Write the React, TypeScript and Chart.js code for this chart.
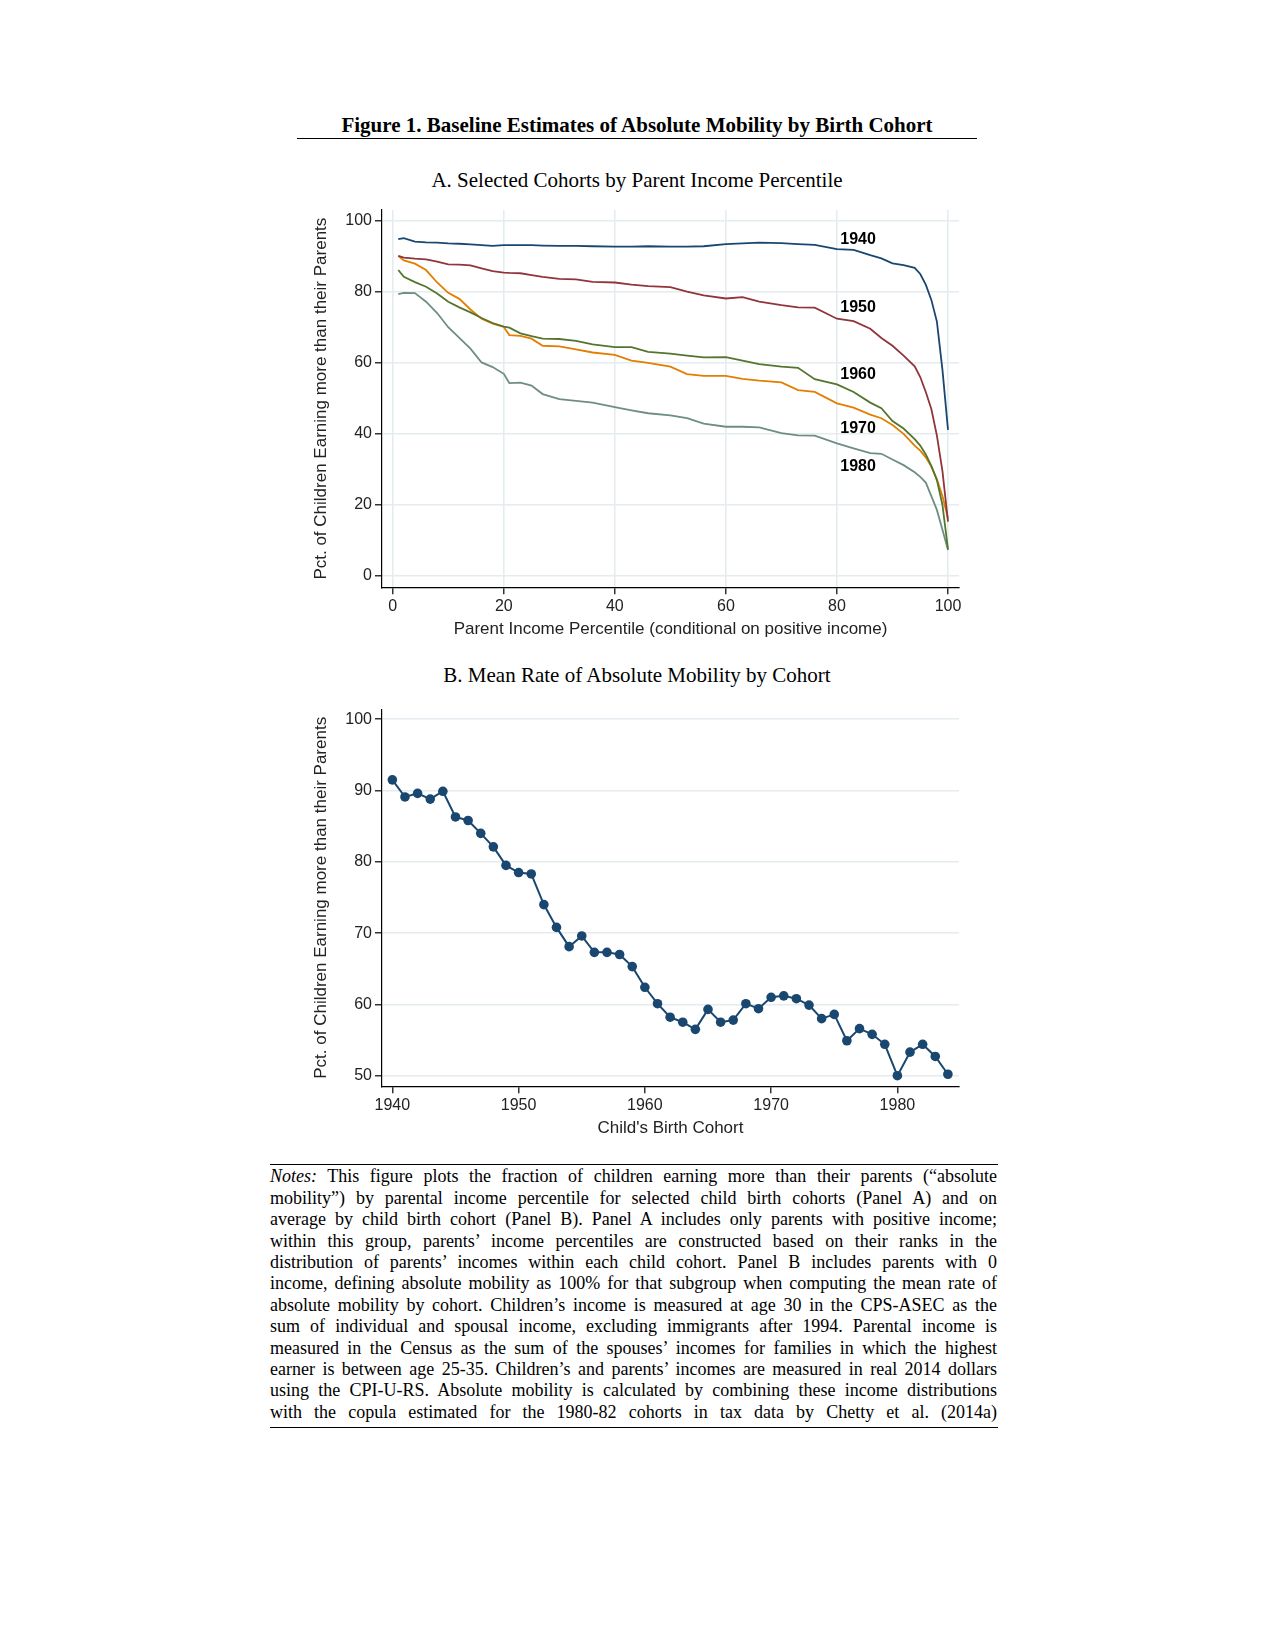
import React, { useEffect, useRef } from 'react';
import { Chart, registerables } from 'chart.js';

Chart.register(...registerables);

// ---------- Panel A data: parent income percentile vs. % children earning more ----------
const PERCENTILES = [1, 2, 4, 6, 8, 10, 12, 14, 16, 18, 20, 21, 23, 25, 27, 30, 33, 36, 40, 43, 46, 50, 53, 56, 60, 63, 66, 70, 73, 76, 80, 83, 86, 88, 90, 92, 94, 95, 96, 97, 98, 99, 100];

const COHORT_1940 = [94.8, 95.1, 94.1, 93.9, 93.8, 93.6, 93.5, 93.3, 93.1, 92.9, 93.1, 93.1, 93.1, 93.1, 93.0, 92.9, 92.9, 92.8, 92.7, 92.7, 92.8, 92.7, 92.7, 92.8, 93.4, 93.6, 93.8, 93.7, 93.4, 93.2, 92.0, 91.8, 90.3, 89.4, 88.0, 87.5, 86.7, 85.0, 82.0, 77.7, 71.6, 58.0, 41.1];
const COHORT_1950 = [90.1, 89.6, 89.3, 89.1, 88.5, 87.7, 87.6, 87.4, 86.6, 85.8, 85.4, 85.3, 85.2, 84.7, 84.2, 83.6, 83.5, 82.8, 82.6, 82.0, 81.6, 81.3, 80.0, 79.0, 78.1, 78.5, 77.2, 76.2, 75.6, 75.5, 72.4, 71.7, 69.6, 67.0, 64.8, 62.0, 59.0, 56.0, 51.8, 47.0, 39.5, 29.5, 15.3];
const COHORT_1960 = [86.1, 84.2, 82.7, 81.4, 79.5, 77.2, 75.6, 74.2, 72.6, 71.2, 70.2, 69.9, 68.3, 67.5, 66.8, 66.7, 66.2, 65.2, 64.4, 64.4, 63.1, 62.6, 62.0, 61.5, 61.6, 60.6, 59.6, 58.9, 58.6, 55.4, 53.9, 51.8, 48.8, 47.2, 43.6, 41.5, 38.5, 36.7, 34.2, 31.0, 27.0, 20.0, 7.5];
const COHORT_1970 = [90.1, 88.8, 87.9, 86.1, 82.6, 79.7, 78.0, 75.0, 72.4, 71.0, 70.1, 67.8, 67.6, 66.8, 64.8, 64.6, 63.8, 62.9, 62.2, 60.6, 60.0, 58.9, 56.8, 56.3, 56.3, 55.5, 55.0, 54.5, 52.3, 51.8, 48.6, 47.4, 45.4, 44.4, 42.5, 40.0, 36.7, 35.3, 33.4, 30.8, 27.2, 22.5, 16.2];
const COHORT_1980 = [79.3, 79.7, 79.6, 77.2, 74.0, 70.0, 67.0, 64.0, 60.1, 58.8, 56.9, 54.3, 54.4, 53.6, 51.2, 49.8, 49.3, 48.8, 47.5, 46.6, 45.8, 45.2, 44.4, 42.9, 42.0, 42.0, 41.8, 40.2, 39.6, 39.5, 37.3, 35.9, 34.6, 34.4, 32.8, 31.2, 29.2, 27.9, 26.3, 22.5, 18.6, 13.0, 7.3];

const COHORT_NAMES = ['1940', '1950', '1960', '1970', '1980'];
// label anchors in data units (percentile, value)
const LABEL_PCT = [80.6, 80.6, 80.6, 80.6, 80.6];
const LABEL_VAL = [94.6, 75.6, 56.6, 41.6, 30.8];

const A_X_TICKS = [0, 20, 40, 60, 80, 100];
const A_Y_TICKS = [0, 20, 40, 60, 80, 100];

// ---------- Panel B data: mean absolute mobility by birth cohort ----------
const BIRTH_COHORTS = [1940, 1941, 1942, 1943, 1944, 1945, 1946, 1947, 1948, 1949, 1950, 1951, 1952, 1953, 1954, 1955, 1956, 1957, 1958, 1959, 1960, 1961, 1962, 1963, 1964, 1965, 1966, 1967, 1968, 1969, 1970, 1971, 1972, 1973, 1974, 1975, 1976, 1977, 1978, 1979, 1980, 1981, 1982, 1983, 1984];
const MEAN_MOBILITY = [91.5, 89.1, 89.6, 88.8, 89.9, 86.3, 85.8, 84.0, 82.1, 79.5, 78.5, 78.3, 74.0, 70.8, 68.1, 69.6, 67.3, 67.3, 67.0, 65.3, 62.4, 60.1, 58.2, 57.5, 56.5, 59.3, 57.5, 57.8, 60.1, 59.4, 61.0, 61.2, 60.8, 59.9, 58.0, 58.6, 54.9, 56.6, 55.8, 54.4, 50.0, 53.3, 54.4, 52.7, 50.2];

const B_X_TICKS = [1940, 1950, 1960, 1970, 1980];
const B_Y_TICKS = [50, 60, 70, 80, 90, 100];

// ---------- styles ----------
const SANS = '"Liberation Sans", Arial, Helvetica, sans-serif';
const SERIF = '"Liberation Serif", "Times New Roman", Times, serif';
const COHORT_COLORS = ['#1a476f', '#90353b', '#55752f', '#e37e00', '#6e8e84'];
const GRID = '#e4ecef';
const TEXT = '#222222';

const NOTE_LINES = [
  'This figure plots the fraction of children earning more than their parents (\u201cabsolute',
  'mobility\u201d) by parental income percentile for selected child birth cohorts (Panel A) and on',
  'average by child birth cohort (Panel B). Panel A includes only parents with positive income;',
  'within this group, parents\u2019 income percentiles are constructed based on their ranks in the',
  'distribution of parents\u2019 incomes within each child cohort. Panel B includes parents with 0',
  'income, defining absolute mobility as 100% for that subgroup when computing the mean rate of',
  'absolute mobility by cohort. Children\u2019s income is measured at age 30 in the CPS-ASEC as the',
  'sum of individual and spousal income, excluding immigrants after 1994. Parental income is',
  'measured in the Census as the sum of the spouses\u2019 incomes for families in which the highest',
  'earner is between age 25-35. Children\u2019s and parents\u2019 incomes are measured in real 2014 dollars',
  'using the CPI-U-RS. Absolute mobility is calculated by combining these income distributions',
  'with the copula estimated for the 1980-82 cohorts in tax data by Chetty et al. (2014a)',
];

const tickFont = { family: SANS, size: 16 };

function axis(opts: any) {
  const { min, max, ticks, title, width, height, gridOnArea, fmt } = opts;
  return {
    type: 'linear',
    min,
    max,
    afterBuildTicks: (s: any) => {
      s.ticks = ticks.map((v: number) => ({ value: v }));
    },
    afterFit: (s: any) => {
      if (width !== undefined) s.width = width;
      if (height !== undefined) s.height = height;
    },
    grid: {
      display: true,
      drawOnChartArea: gridOnArea,
      color: GRID,
      lineWidth: 1.6,
      drawTicks: true,
      tickLength: 7,
      tickColor: '#000',
      tickWidth: 1.2,
    },
    border: { display: true, color: '#000', width: 1.2 },
    ticks: {
      color: TEXT,
      font: tickFont,
      padding: 3,
      maxRotation: 0,
      autoSkip: false,
      callback: (v: any) => (fmt ? fmt(v) : String(v)),
    },
    title: {
      display: true,
      text: title,
      color: TEXT,
      font: { family: SANS, size: 17 },
      padding: 0,
    },
  };
}

const cohortLabelPlugin = {
  id: 'cohortLabels',
  afterDatasetsDraw(chart: any) {
    const { ctx } = chart;
    const xs = chart.scales.x;
    const ys = chart.scales.y;
    ctx.save();
    ctx.font = `bold 16px ${SANS}`;
    ctx.fillStyle = '#000';
    ctx.textAlign = 'left';
    ctx.textBaseline = 'middle';
    COHORT_NAMES.forEach((name, i) => {
      ctx.fillText(name, xs.getPixelForValue(LABEL_PCT[i]), ys.getPixelForValue(LABEL_VAL[i]));
    });
    ctx.restore();
  },
};

function PanelA() {
  const ref = useRef<HTMLCanvasElement>(null);
  useEffect(() => {
    if (!ref.current) return;
    const series = [COHORT_1940, COHORT_1950, COHORT_1960, COHORT_1970, COHORT_1980];
    const chart = new Chart(ref.current, {
      type: 'line',
      data: {
        datasets: series.map((vals, i) => ({
          label: COHORT_NAMES[i],
          data: PERCENTILES.map((p, j) => ({ x: p, y: vals[j] })),
          borderColor: COHORT_COLORS[i],
          backgroundColor: COHORT_COLORS[i],
          borderWidth: 1.8,
          pointRadius: 0,
          tension: 0,
          fill: false,
        })),
      },
      options: {
        responsive: false,
        animation: false,
        devicePixelRatio: 1,
        layout: { padding: { left: 10.8, right: 21, top: 15, bottom: 5.1 } },
        plugins: { legend: { display: false }, tooltip: { enabled: false } },
        scales: {
          x: axis({ min: -1.93, max: 101.98, ticks: A_X_TICKS, title: 'Parent Income Percentile (conditional on positive income)', height: 52.6, gridOnArea: true }),
          y: axis({ min: -3.18, max: 103.0, ticks: A_Y_TICKS, title: 'Pct. of Children Earning more than their Parents', width: 71.2, gridOnArea: true }),
        },
      } as any,
      plugins: [cohortLabelPlugin],
    });
    return () => chart.destroy();
  }, []);
  return (
    <canvas
      ref={ref}
      width={680}
      height={450}
      style={{ position: 'absolute', left: 300, top: 195, width: 680, height: 450 }}
    />
  );
}

function PanelB() {
  const ref = useRef<HTMLCanvasElement>(null);
  useEffect(() => {
    if (!ref.current) return;
    const chart = new Chart(ref.current, {
      type: 'line',
      data: {
        datasets: [
          {
            label: 'Mean absolute mobility',
            data: BIRTH_COHORTS.map((c, i) => ({ x: c, y: MEAN_MOBILITY[i] })),
            borderColor: '#1a476f',
            backgroundColor: '#1a476f',
            pointBackgroundColor: '#1a476f',
            pointBorderColor: '#1a476f',
            pointBorderWidth: 0,
            pointRadius: 4.8,
            borderWidth: 2,
            tension: 0,
            fill: false,
          },
        ],
      },
      options: {
        responsive: false,
        animation: false,
        devicePixelRatio: 1,
        layout: { padding: { left: 10.8, right: 21, top: 19.3, bottom: 11.1 } },
        plugins: { legend: { display: false }, tooltip: { enabled: false } },
        scales: {
          x: axis({ min: 1939.18, max: 1984.88, ticks: B_X_TICKS, title: "Child's Birth Cohort", height: 52.6, gridOnArea: false }),
          y: axis({ min: 48.51, max: 101.4, ticks: B_Y_TICKS, title: 'Pct. of Children Earning more than their Parents', width: 71.2, gridOnArea: true }),
        },
      } as any,
    });
    return () => chart.destroy();
  }, []);
  return (
    <canvas
      ref={ref}
      width={680}
      height={460}
      style={{ position: 'absolute', left: 300, top: 690, width: 680, height: 460 }}
    />
  );
}

const headStyle = (top: number, size: number, bold: boolean): React.CSSProperties => ({
  position: 'absolute',
  left: 297,
  top,
  width: 680,
  textAlign: 'center',
  fontFamily: SERIF,
  fontWeight: bold ? 'bold' : 'normal',
  fontSize: size,
  lineHeight: `${size}px`,
  color: '#000',
  whiteSpace: 'nowrap',
});

export default function App() {
  return (
    <div style={{ position: 'absolute', left: 0, top: 0, width: 1275, height: 1650, background: '#fff', overflow: 'hidden' }}>
      <div style={headStyle(115.4, 21, true)}>Figure 1. Baseline Estimates of Absolute Mobility by Birth Cohort</div>
      <div style={{ position: 'absolute', left: 297, top: 138, width: 680, height: 0, borderTop: '1.3px solid #000' }} />

      <div style={headStyle(170.4, 21, false)}>A. Selected Cohorts by Parent Income Percentile</div>
      <PanelA />

      <div style={headStyle(664.7, 21, false)}>B. Mean Rate of Absolute Mobility by Cohort</div>
      <PanelB />

      <div style={{ position: 'absolute', left: 270, top: 1164, width: 728, height: 0, borderTop: '1.3px solid #000' }} />
      <div
        style={{
          position: 'absolute', left: 270, top: 1166.3, width: 727,
          fontFamily: SERIF, fontSize: 18, lineHeight: '21.4px', color: '#000',
        }}
      >
        {NOTE_LINES.map((line, i) => (
          <div key={i} style={{ textAlign: 'justify', textAlignLast: 'justify' } as any}>
            {i === 0 ? (
              <>
                <i>Notes:</i> {line}
              </>
            ) : (
              line
            )}
          </div>
        ))}
      </div>
      <div style={{ position: 'absolute', left: 270, top: 1426.5, width: 728, height: 0, borderTop: '1.3px solid #000' }} />
    </div>
  );
}
